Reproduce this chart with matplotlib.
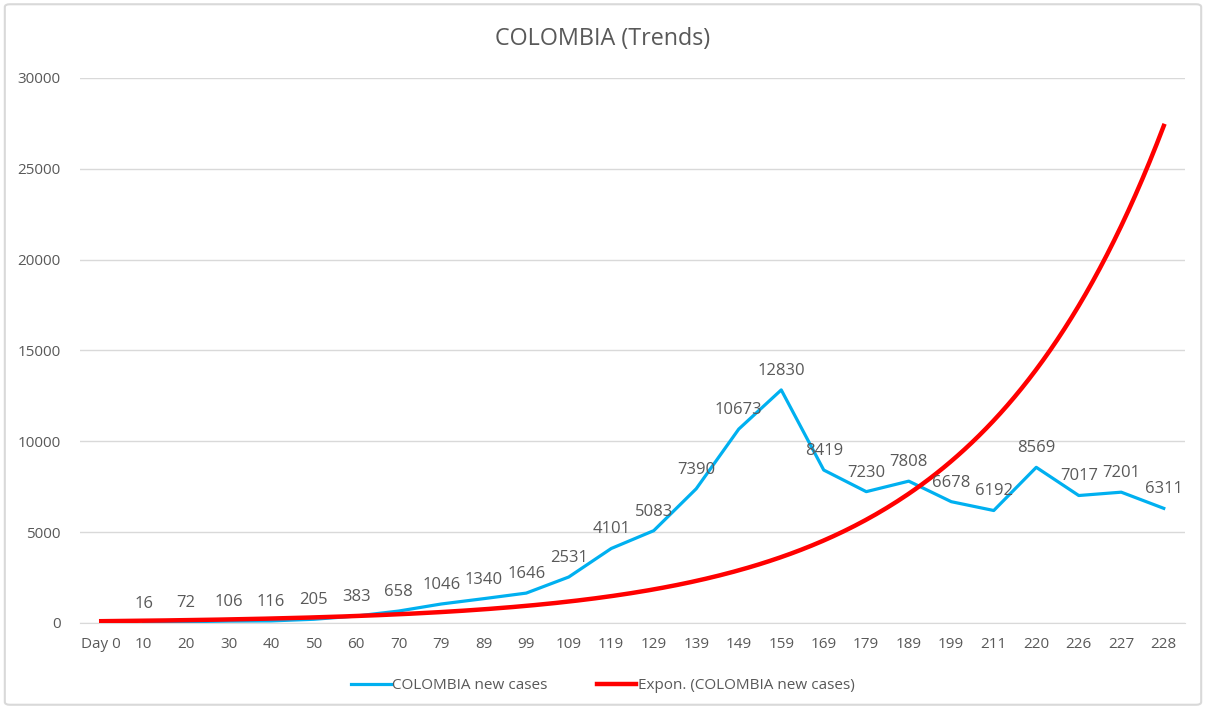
import numpy as np
import matplotlib
matplotlib.use("Agg")
import matplotlib.pyplot as plt
from matplotlib.patches import FancyBboxPatch

categories = ["Day 0", "10", "20", "30", "40", "50", "60", "70", "79", "89", "99",
              "109", "119", "129", "139", "149", "159", "169", "179", "189", "199",
              "211", "220", "226", "227", "228"]
new_cases = [np.nan, 16, 72, 106, 116, 205, 383, 658, 1046, 1340, 1646, 2531, 4101,
             5083, 7390, 10673, 12830, 8419, 7230, 7808, 6678, 6192, 8569, 7017,
             7201, 6311]

plt.rcParams['font.family'] = ['Open Sans', 'DejaVu Sans']
grey = '#595959'

fig = plt.figure(figsize=(12.06, 7.09), dpi=100)
ax = fig.add_axes([0.0663, 0.1213, 0.9163, 0.7687])

x = np.arange(len(categories))
y = np.array(new_cases, dtype=float)
mask = ~np.isnan(y)

# Exponential trendline (least squares on ln y), as Excel does
b, ln_a = np.polyfit(x[mask] + 1, np.log(y[mask]), 1)
xs = np.linspace(0, len(categories) - 1, 300)
trend = np.exp(ln_a) * np.exp(b * (xs + 1))

ax.plot(x, y, color='#00B0F0', lw=2.3, solid_joinstyle='round',
        label='COLOMBIA new cases', zorder=3)
ax.plot(xs, trend, color='#FF0000', lw=3.2, label='Expon. (COLOMBIA new cases)', zorder=4)

for xi, yi in zip(x, y):
    if np.isnan(yi):
        continue
    ax.annotate(f"{int(yi)}", (xi, yi), xytext=(0, 8), textcoords='offset points',
                ha='center', va='bottom', fontsize=12, color=grey, zorder=5)

ax.set_xlim(-0.5, len(categories) - 0.5)
ax.set_ylim(0, 30000)
ax.set_yticks(np.arange(0, 30001, 5000))
ax.set_xticks(x)
ax.set_xticklabels(categories)
ax.tick_params(axis='both', length=0, labelsize=11, colors=grey)
ax.tick_params(axis='x', pad=10)
ax.tick_params(axis='y', pad=14)
ax.grid(axis='y', color='#d9d9d9', lw=1)
ax.set_axisbelow(True)
for s in ['top', 'right', 'left']:
    ax.spines[s].set_visible(False)
ax.spines['bottom'].set_color('#d9d9d9')

fig.text(0.5, 0.945, "COLOMBIA (Trends)", ha='center', va='center', fontsize=16.8, color=grey)

leg = fig.legend(loc='center', bbox_to_anchor=(0.5, 0.033), ncol=2, frameon=False,
                 fontsize=11, handlelength=2.6, handletextpad=0.1, columnspacing=3.2)
for t in leg.get_texts():
    t.set_color(grey)

border = FancyBboxPatch((0.004, 0.006), 0.992, 0.988, boxstyle='round,pad=0,rounding_size=0.004',
                        transform=fig.transFigure, fill=False, edgecolor='#d9d9d9', lw=1.5)
fig.patches.append(border)

fig.savefig('out.png', dpi=100)
